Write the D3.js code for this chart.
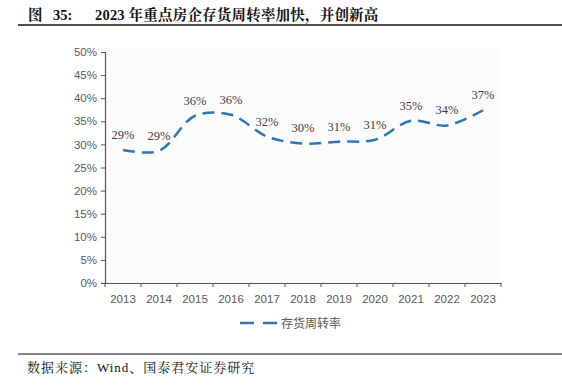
<!DOCTYPE html>
<html>
<head>
<meta charset="utf-8">
<script src="https://cdn.jsdelivr.net/npm/d3@7"></script>
<style>
  body { margin: 0; background: #fff; }
</style>
</head>
<body>
<script>
// chart data
var years = ["2013", "2014", "2015", "2016", "2017", "2018", "2019", "2020", "2021", "2022", "2023"];
var turnover = [28.8, 28.6, 36.2, 36.4, 31.7, 30.2, 30.6, 31.0, 35.1, 34.1, 37.4];
var yTicks = [0, 5, 10, 15, 20, 25, 30, 35, 40, 45, 50];
var seriesName = "存货周转率";

var W = 562, H = 392;
var svg = d3.select("body").append("svg").attr("width", W).attr("height", H);

var serif = "'Liberation Serif', 'Noto Serif CJK SC', 'Noto Sans CJK SC', serif";
var sans = "'Liberation Sans', Arial, 'Noto Sans CJK SC', sans-serif";

// title (pieces placed separately to keep the gaps)
var title = svg.append("text")
    .attr("y", 20)
    .style("font-family", serif).style("font-weight", "bold").style("font-size", "14.5px")
    .attr("fill", "#111");
title.append("tspan").attr("x", 28).text("图");
title.append("tspan").attr("x", 53).text("35:");
title.append("tspan").attr("x", 95).style("letter-spacing", "0.2px").text("2023 年重点房企存货周转率加快，并创新高");

svg.append("line").attr("x1", 18).attr("x2", W).attr("y1", 25).attr("y2", 25)
    .attr("stroke", "#111").attr("stroke-width", 1.5);

// plot area
var margin = {left: 105, top: 52, right: 61, bottom: 109};
var w = W - margin.left - margin.right;
var h = H - margin.top - margin.bottom;
var g = svg.append("g").attr("transform", "translate(" + margin.left + "," + margin.top + ")");

g.append("rect").attr("x", 0).attr("y", -4).attr("width", w).attr("height", h + 4).attr("fill", "#fbfbfb");

var x = d3.scaleBand().domain(years).range([0, w]);
var y = d3.scaleLinear().domain([0, 50]).range([h, 0]);

// y axis
var yAxis = g.append("g")
    .call(d3.axisLeft(y).tickValues(yTicks).tickSize(4).tickFormat(function(d) { return d + "%"; }));
yAxis.select(".domain").attr("stroke", "#555").attr("stroke-width", 1.2);
yAxis.selectAll(".tick line").attr("stroke", "#555");
yAxis.selectAll("text").style("font-family", sans).style("font-size", "11.5px").attr("fill", "#595959").attr("x", -8);

// x axis (ticks on category boundaries)
var xAxis = g.append("g").attr("transform", "translate(0," + h + ")")
    .call(d3.axisBottom(x).tickSize(0).tickPadding(12));
xAxis.select(".domain").attr("stroke", "#555").attr("stroke-width", 1.2);
xAxis.selectAll("text").style("font-family", sans).style("font-size", "11.5px").attr("fill", "#595959");
g.selectAll(".xb").data(d3.range(years.length + 1)).enter().append("line")
    .attr("x1", function(i) { return i * x.step(); }).attr("x2", function(i) { return i * x.step(); })
    .attr("y1", h).attr("y2", h + 4).attr("stroke", "#555");

// line
var line = d3.line()
    .x(function(d, i) { return x(years[i]) + x.bandwidth() / 2; })
    .y(function(d) { return y(d); })
    .curve(d3.curveCatmullRom.alpha(0.5));

g.append("path").datum(turnover)
    .attr("d", line)
    .attr("fill", "none")
    .attr("stroke", "#2E75B6")
    .attr("stroke-width", 2.5)
    .attr("stroke-dasharray", "12,7");

// data labels
g.selectAll(".lbl").data(turnover).enter().append("text")
    .attr("x", function(d, i) { return x(years[i]) + x.bandwidth() / 2; })
    .attr("y", function(d) { return y(d) - 11; })
    .attr("text-anchor", "middle")
    .style("font-family", serif).style("font-size", "12.5px")
    .attr("fill", "#404040")
    .text(function(d) { return Math.round(d) + "%"; });

// legend
var lg = svg.append("g").attr("transform", "translate(240,323)");
lg.append("line").attr("x1", 0).attr("x2", 37).attr("y1", 0).attr("y2", 0)
    .attr("stroke", "#2E75B6").attr("stroke-width", 2.5).attr("stroke-dasharray", "14,9");
lg.append("text").attr("x", 41).attr("y", 4.5)
    .style("font-family", "'Noto Sans CJK SC', sans-serif").style("font-size", "12px")
    .attr("fill", "#595959").text(seriesName);

// footer
svg.append("line").attr("x1", 18).attr("x2", W).attr("y1", 354).attr("y2", 354)
    .attr("stroke", "#111").attr("stroke-width", 1.2);
svg.append("text").attr("x", 27).attr("y", 372)
    .style("font-family", serif).style("font-size", "13px").style("letter-spacing", "1px").attr("fill", "#111")
    .text("数据来源：Wind、国泰君安证券研究");
</script>
</body>
</html>
